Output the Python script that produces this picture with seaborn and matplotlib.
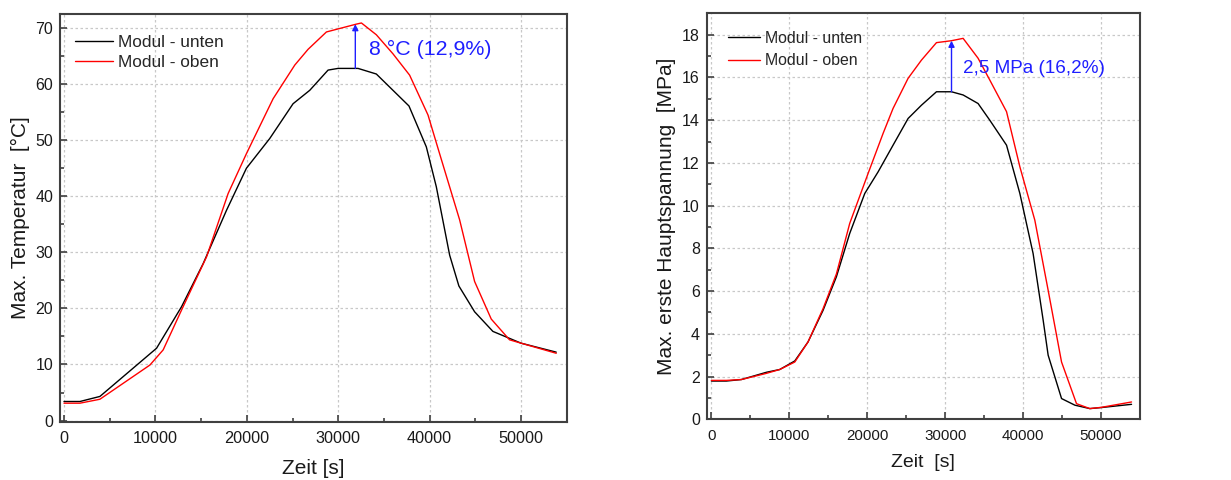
import numpy as np
import pandas as pd
import matplotlib
matplotlib.use("Agg")
import matplotlib.pyplot as plt
from matplotlib.ticker import MultipleLocator
import seaborn as sns

# --- Temperatur (links) ---
t_zeit_unten = [0, 1750, 3930, 10130, 12860, 15230, 17780, 19960, 22510, 25060,
                26890, 28890, 29980, 32170, 34170, 37740, 39640, 40730, 42190,
                43200, 44920, 46920, 50000, 53850]
t_unten = [3.4, 3.4, 4.3, 12.9, 20.3, 28.0, 37.5, 45.0, 50.3, 56.5,
           58.9, 62.5, 62.8, 62.8, 61.8, 56.1, 48.8, 41.7, 29.5,
           24.0, 19.4, 15.9, 13.8, 12.2]
t_zeit_oben = [0, 1750, 3930, 9400, 10850, 12860, 15600, 17960, 19960, 22880,
               25250, 26700, 28710, 31990, 32540, 34170, 35990, 37810, 39820,
               41090, 43280, 44920, 46740, 48740, 50000, 53850]
t_oben = [3.1, 3.1, 3.8, 9.9, 12.6, 19.7, 29.2, 40.5, 47.6, 57.4,
          63.4, 66.2, 69.3, 70.7, 70.9, 68.8, 65.4, 61.6, 54.5,
          47.6, 35.8, 24.8, 18.1, 14.4, 13.8, 12.0]

# --- Hauptspannung (rechts) ---
s_zeit_unten = [0, 1930, 3850, 7060, 8770, 10700, 12400, 14330, 16040, 17750,
                19680, 21390, 23310, 25240, 26950, 28880, 30810, 32300, 34220,
                35720, 37870, 39580, 41280, 42570, 43210, 44930, 46640, 48560,
                50060, 53910]
s_unten = [1.79, 1.79, 1.86, 2.20, 2.33, 2.73, 3.62, 5.10, 6.67, 8.70,
           10.57, 11.58, 12.83, 14.08, 14.70, 15.33, 15.33, 15.18, 14.78,
           14.00, 12.83, 10.57, 7.76, 4.64, 3.00, 0.97, 0.66, 0.50,
           0.55, 0.70]
s_zeit_oben = [0, 1930, 3850, 7060, 8770, 10700, 12400, 14330, 16040, 17750,
               20100, 22030, 23310, 25240, 26950, 28880, 30810, 32300, 34220,
               35720, 37870, 39580, 41500, 43210, 44930, 46850, 48560, 50060,
               53910]
s_oben = [1.82, 1.82, 1.86, 2.15, 2.33, 2.68, 3.62, 5.18, 6.80, 9.17,
          11.50, 13.38, 14.55, 15.96, 16.81, 17.63, 17.72, 17.83, 16.90,
          15.88, 14.40, 11.82, 9.32, 6.04, 2.68, 0.73, 0.50, 0.56,
          0.81]

series_names = ["Modul - unten", "Modul - oben"]
series_colors = ["#000000", "#ff0000"]

t_delta_text = "8 °C (12,9%)"
s_delta_text = "2,5 MPa (16,2%)"

sns.set_style("ticks")
plt.rcParams["font.family"] = ["Liberation Sans", "DejaVu Sans"]


def long_frame(x1, y1, x2, y2):
    return pd.DataFrame({
        "Zeit": list(x1) + list(x2),
        "Wert": list(y1) + list(y2),
        "Serie": [series_names[0]] * len(x1) + [series_names[1]] * len(x2),
    })


fig = plt.figure(figsize=(12.31, 4.80), dpi=100)
ax1 = fig.add_axes([0.0487, 0.1215, 0.4117, 0.8493])
ax2 = fig.add_axes([0.5741, 0.1265, 0.3520, 0.8470])

palette = dict(zip(series_names, series_colors))


def style_axes(ax, xlim, ylim, ymajor, yminor, xlabel, ylabel, tick_fs, label_fs,
               leg_fs, leg_anchor, handlelength, labelspacing, xlabelpad):
    ax.set_xlim(*xlim)
    ax.set_ylim(*ylim)
    ax.xaxis.set_major_locator(MultipleLocator(10000))
    ax.xaxis.set_minor_locator(MultipleLocator(5000))
    ax.yaxis.set_major_locator(MultipleLocator(ymajor))
    ax.yaxis.set_minor_locator(MultipleLocator(yminor))
    ax.grid(True, which="major", color="#c8c8c8", linestyle=(0, (2, 2)), linewidth=0.9)
    ax.set_axisbelow(True)
    for sp in ax.spines.values():
        sp.set_visible(True)
        sp.set_color("#404040")
        sp.set_linewidth(1.5)
    ax.tick_params(which="both", direction="in", colors="#404040",
                   labelcolor="#1a1a1a", width=1.2)
    ax.tick_params(axis="x", labelsize=tick_fs, pad=7)
    ax.tick_params(axis="y", labelsize=11.5, pad=5)
    ax.tick_params(which="major", length=5)
    ax.tick_params(which="minor", length=3)
    ax.set_xlabel(xlabel, fontsize=label_fs, color="#1a1a1a", labelpad=xlabelpad)
    ax.set_ylabel(ylabel, fontsize=15, color="#1a1a1a", labelpad=4)
    leg = ax.legend(loc="upper left", frameon=False, fontsize=leg_fs,
                    handlelength=handlelength, handletextpad=0.3,
                    labelspacing=labelspacing,
                    borderaxespad=0, borderpad=0, bbox_to_anchor=leg_anchor)
    for h in leg.get_lines():
        h.set_linewidth(1.0)


df_t = long_frame(t_zeit_unten, t_unten, t_zeit_oben, t_oben)
sns.lineplot(data=df_t, x="Zeit", y="Wert", hue="Serie", palette=palette,
             sort=False, estimator=None, linewidth=1.0, ax=ax1)
style_axes(ax1, (-440, 55000), (-0.2, 72.5), 10, 5, "Zeit [s]", "Max. Temperatur  [°C]",
           11.7, 15, 12.4, (0.03, 0.948), 2.2, 0.3, 9)

df_s = long_frame(s_zeit_unten, s_unten, s_zeit_oben, s_oben)
sns.lineplot(data=df_s, x="Zeit", y="Wert", hue="Serie", palette=palette,
             sort=False, estimator=None, linewidth=1.0, ax=ax2)
style_axes(ax2, (-600, 55000), (0, 19.03), 2, 1, "Zeit  [s]", "Max. erste Hauptspannung  [MPa]",
           10.9, 14, 11.4, (0.05, 0.955), 2.0, 0.45, 8)

blue = "#1f1fff"
# Differenz am Maximum: Pfeil von der unteren zur oberen Kurve
t_x = t_zeit_unten[13] - 300
ax1.annotate("", xy=(t_x, max(t_oben) - 0.2), xytext=(t_x, max(t_unten)),
             arrowprops=dict(arrowstyle="-|>", color=blue, lw=1.0,
                             mutation_scale=9, shrinkA=0, shrinkB=0))
ax1.text(33400, 66.2, t_delta_text, color=blue, fontsize=15.4, va="center", ha="left")

s_x = s_zeit_unten[16]
ax2.annotate("", xy=(s_x, s_oben[16]), xytext=(s_x, s_unten[16]),
             arrowprops=dict(arrowstyle="-|>", color=blue, lw=1.0,
                             mutation_scale=9, shrinkA=0, shrinkB=0))
ax2.text(32300, 16.4, s_delta_text, color=blue, fontsize=13.6, va="center", ha="left")

fig.savefig("out.png", dpi=100, facecolor="white")
